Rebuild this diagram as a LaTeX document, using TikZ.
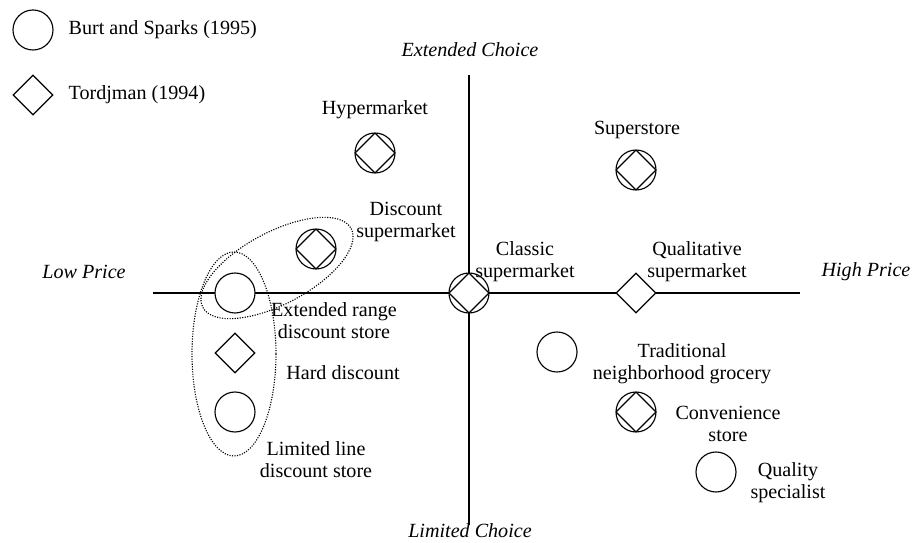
\documentclass[tikz,border=0pt]{standalone}
\usepackage{fontspec}
\setmainfont{Liberation Serif}
\usepackage{tikz}
\usetikzlibrary{shapes,arrows}
\tikzstyle{burt} = [circle, draw, thick, minimum size=1cm, inner sep=0pt]
\tikzstyle{tord} = [diamond, draw, thick, minimum size=1cm, inner sep=0pt]
\tikzstyle{both} = [burt, path picture={\draw[thick] (path picture bounding box.north) -- (path picture bounding box.east) -- (path picture bounding box.south) -- (path picture bounding box.west) -- cycle;}]
\tikzstyle{lbl} = [align=center, inner sep=1pt, font=\fontsize{14.3}{15.8}\selectfont]
\tikzstyle{axislbl} = [lbl, font=\fontsize{14.3}{15.8}\selectfont\itshape]
\tikzstyle{group} = [draw, densely dotted, thick]

\begin{document}
\begin{tikzpicture}[x=0.025cm, y=-0.025cm]
\useasboundingbox (0,0) rectangle (914,543);

% Legend
\node [burt] (legC) at (33,30) {};
\node [lbl, anchor=west] (legCt) at (67,30) {Burt and Sparks (1995)};
\node [tord] (legD) at (33,95) {};
\node [lbl, anchor=west] (legDt) at (67,95) {Tordjman (1994)};

% Axes
\coordinate (west) at (153,293);
\coordinate (east) at (800,293);
\coordinate (north) at (469,75);
\coordinate (south) at (469,525);
\draw [thick] (west) -- (east);
\draw [thick] (north) -- (south);
\node [axislbl] (ext) at (470,50) {Extended Choice};
\node [axislbl] (lim) at (470,531) {Limited Choice};
\node [axislbl] (low) at (84,272) {Low Price};
\node [axislbl] (high) at (866,272) {High Price};

% Formats
\node [both, fill=white] (hyper) at (375,153) {};
\node [lbl] (hyperT) at (375,110) {Hypermarket};
\node [both, fill=white] (super) at (636,170) {};
\node [lbl] (superT) at (637,130) {Superstore};
\node [both, fill=white] (dsm) at (316,249) {};
\node [lbl] (dsmT) at (406,222) {Discount\\supermarket};
\node [both, fill=white] (classic) at (469,293) {};
\node [lbl] (classicT) at (525,262) {Classic\\supermarket};
\node [tord, fill=white] (qual) at (636,293) {};
\node [lbl] (qualT) at (697,262) {Qualitative\\supermarket};
\node [burt, fill=white] (erd) at (235,293) {};
\node [lbl] (erdT) at (334,321) {Extended range\\discount store};
\node [tord] (hard) at (235,353) {};
\node [lbl] (hardT) at (343,373) {Hard discount};
\node [burt] (lld) at (235,412) {};
\node [lbl] (lldT) at (316,460) {Limited line\\discount store};
\node [burt] (trad) at (557,352) {};
\node [lbl] (tradT) at (682,364) {Traditional\\neighborhood grocery};
\node [both] (conv) at (636,412) {};
\node [lbl] (convT) at (728,424) {Convenience\\store};
\node [burt] (qs) at (716,472) {};
\node [lbl] (qsT) at (788,483) {Quality\\specialist};

% Groups
\draw [group] (277,268) ellipse [x radius=84, y radius=36, rotate=28];
\draw [group] (234,354) ellipse [x radius=42, y radius=102];
\end{tikzpicture}
\end{document}
